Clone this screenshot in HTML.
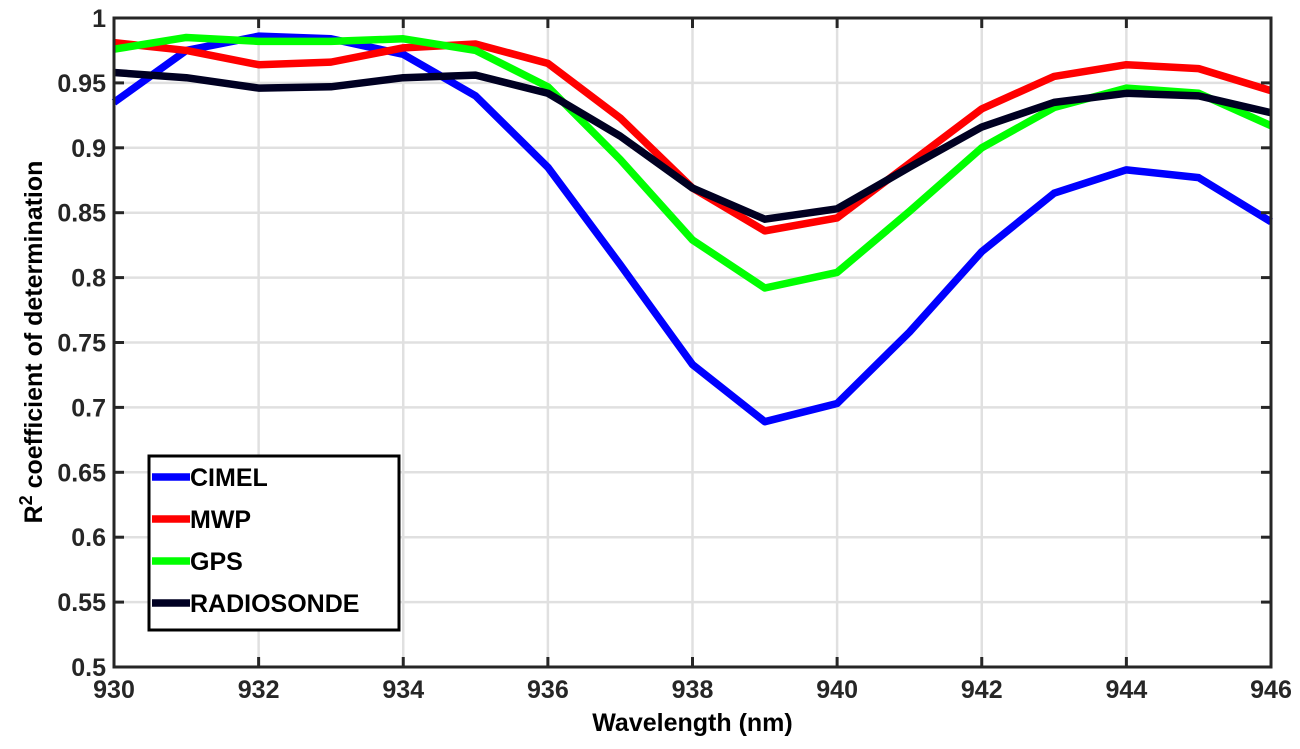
<!DOCTYPE html>
<html><head><meta charset="utf-8"><style>
body{margin:0;background:#fff;}
svg{font-family:"Liberation Sans",Arial,sans-serif;font-weight:bold;}
</style></head><body>
<svg id="chart" width="1300" height="744" xmlns="http://www.w3.org/2000/svg"></svg>
<script>
const wavelengths=[930,931,932,933,934,935,936,937,938,939,940,941,942,943,944,945,946];
const cimel=[0.935,0.975,0.986,0.984,0.972,0.94,0.885,0.81,0.733,0.689,0.703,0.758,0.82,0.865,0.883,0.877,0.843];
const mwp=[0.981,0.975,0.964,0.966,0.977,0.98,0.965,0.923,0.869,0.836,0.846,0.888,0.93,0.955,0.964,0.961,0.944];
const gps=[0.976,0.985,0.982,0.982,0.984,0.975,0.947,0.891,0.829,0.792,0.804,0.851,0.9,0.931,0.946,0.942,0.917];
const radiosonde=[0.958,0.954,0.946,0.947,0.954,0.956,0.942,0.909,0.869,0.845,0.853,0.885,0.916,0.935,0.942,0.94,0.927];
const xTicks=[930,932,934,936,938,940,942,944,946];
const yTicks=[0.5,0.55,0.6,0.65,0.7,0.75,0.8,0.85,0.9,0.95,1];
const yTickLabels=["0.5","0.55","0.6","0.65","0.7","0.75","0.8","0.85","0.9","0.95","1"];
const seriesNames=["CIMEL","MWP","GPS","RADIOSONDE"];
const seriesColors=["#0000ff","#ff0000","#00ff00","#000022"];
const seriesData=[cimel,mwp,gps,radiosonde];

const L=114,R=1271,T=18,B=667;
const xs=v=>L+(v-930)/(946-930)*(R-L);
const ys=v=>B-(v-0.5)/(1-0.5)*(B-T);
const svg=document.getElementById('chart');
const NS='http://www.w3.org/2000/svg';
function mk(tag,attrs,parent){const e=document.createElementNS(NS,tag);for(const k in attrs)e.setAttribute(k,attrs[k]);(parent||svg).appendChild(e);return e;}

const grid=mk('g',{});


xTicks.forEach(t=>{const l=mk('line',{x1:xs(t),x2:xs(t),y1:T,y2:B,stroke:'#e0e0e0','stroke-width':2.5},grid);

});
yTicks.forEach(t=>{const l=mk('line',{x1:L,x2:R,y1:ys(t),y2:ys(t),stroke:'#e0e0e0','stroke-width':2.5},grid);

});

seriesData.forEach((d,i)=>{
 const p=mk('polyline',{points:d.map((v,j)=>xs(wavelengths[j])+','+ys(v)).join(' '),fill:'none',stroke:seriesColors[i],'stroke-width':7.5,'stroke-linejoin':'round'});
 
 
});

const ax=mk('rect',{x:L,y:T,width:R-L,height:B-T,fill:'none',stroke:'#262626','stroke-width':3});


xTicks.forEach(t=>{
 mk('line',{x1:xs(t),x2:xs(t),y1:B,y2:B-10,stroke:'#262626','stroke-width':3});
 mk('line',{x1:xs(t),x2:xs(t),y1:T,y2:T+10,stroke:'#262626','stroke-width':3});
 const tx=mk('text',{x:xs(t),y:B+31,'text-anchor':'middle','font-size':25,fill:'#262626'});
 tx.textContent=t;
 
 
});
yTicks.forEach((t,i)=>{
 mk('line',{x1:L,x2:L+10,y1:ys(t),y2:ys(t),stroke:'#262626','stroke-width':3});
 mk('line',{x1:R,x2:R-10,y1:ys(t),y2:ys(t),stroke:'#262626','stroke-width':3});
 const tx=mk('text',{x:L-8,y:ys(t)+9,'text-anchor':'end','font-size':25,fill:'#262626'});
 tx.textContent=yTickLabels[i];
 
 
});
const xt=mk('text',{x:(L+R)/2,y:731,'text-anchor':'middle','font-size':25,fill:'#000'});
xt.textContent='Wavelength (nm)';


const yt=mk('text',{transform:'translate(42,342) rotate(-90)','text-anchor':'middle','font-size':25,fill:'#000'});
yt.innerHTML='R<tspan dy="-10" font-size="18">2</tspan><tspan dy="10"> coefficient of determination</tspan>';



const lg=mk('g',{});


mk('rect',{x:149,y:456,width:250,height:174,fill:'#fff',stroke:'#000','stroke-width':3},lg);
seriesNames.forEach((n,i)=>{
 const y=477+i*42;
 const ln=mk('line',{x1:152,x2:190,y1:y,y2:y,stroke:seriesColors[i],'stroke-width':7.5},lg);
 
 
 const tx=mk('text',{x:190,y:y+9,'font-size':25,fill:'#000'},lg);
 tx.textContent=n;
 
 
});
</script>
</body></html>
